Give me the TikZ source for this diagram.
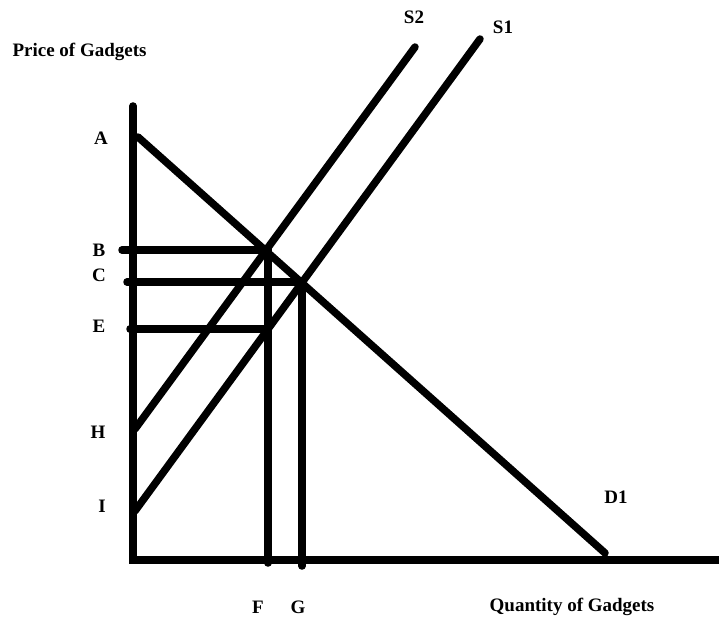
\documentclass[tikz,border=0pt]{standalone}
\usepackage{fontspec}
\setmainfont{Liberation Serif}
\begin{document}
\begin{tikzpicture}[x=1pt,y=-1pt,
  curve/.style={line width=7.5pt,line cap=round},
  lbl/.style={font=\fontsize{19}{21}\selectfont\bfseries}]
\useasboundingbox (0,0) rectangle (719,620);
% Axes
\coordinate (origin) at (133,560);
\coordinate (ytop) at (133,106);
\coordinate (xend) at (722,560);
\draw[curve] (ytop) -- (origin) -- (xend);
% Demand and supply curves
\coordinate (dtop) at (138,137);
\coordinate (dbot) at (605,553);
\coordinate (s2bot) at (135,429);
\coordinate (s2top) at (415,47);
\coordinate (s1bot) at (135,511);
\coordinate (s1top) at (480,39);
\draw[curve] (dtop) -- (dbot);
\draw[curve] (s2bot) -- (s2top);
\draw[curve] (s1bot) -- (s1top);
% Equilibrium points
\coordinate (eqtwo) at (268,250);
\coordinate (eqone) at (302,282);
\coordinate (eqlow) at (268,329);
% Price lines
\coordinate (bstart) at (122,250);
\coordinate (cstart) at (127,282);
\coordinate (estart) at (130,329);
\draw[curve] (bstart) -- (eqtwo);
\draw[curve] (cstart) -- (eqone);
\draw[curve] (estart) -- (eqlow);
% Quantity lines
\coordinate (fend) at (268,563);
\coordinate (gend) at (302,566);
\draw[curve] (eqtwo) -- (fend);
\draw[curve] (eqone) -- (gend);
% Point labels
\foreach \name/\x/\y in {A/101/138, B/99/250, C/99/275, E/99/326,
  H/98/432, I/102/506, F/258/607, G/298/607} {
  \node[lbl] (\name) at (\x,\y) {\name};
}
% Curve labels
\node[lbl] (S2) at (414,17) {S2};
\node[lbl] (S1) at (503,27) {S1};
\node[lbl] (D1) at (616,497) {D1};
% Axis labels
\node[lbl, anchor=west] (price) at (9,52) {Price of Gadgets};
\node[lbl] (quantity) at (572,607) {Quantity of Gadgets};
\end{tikzpicture}
\end{document}
